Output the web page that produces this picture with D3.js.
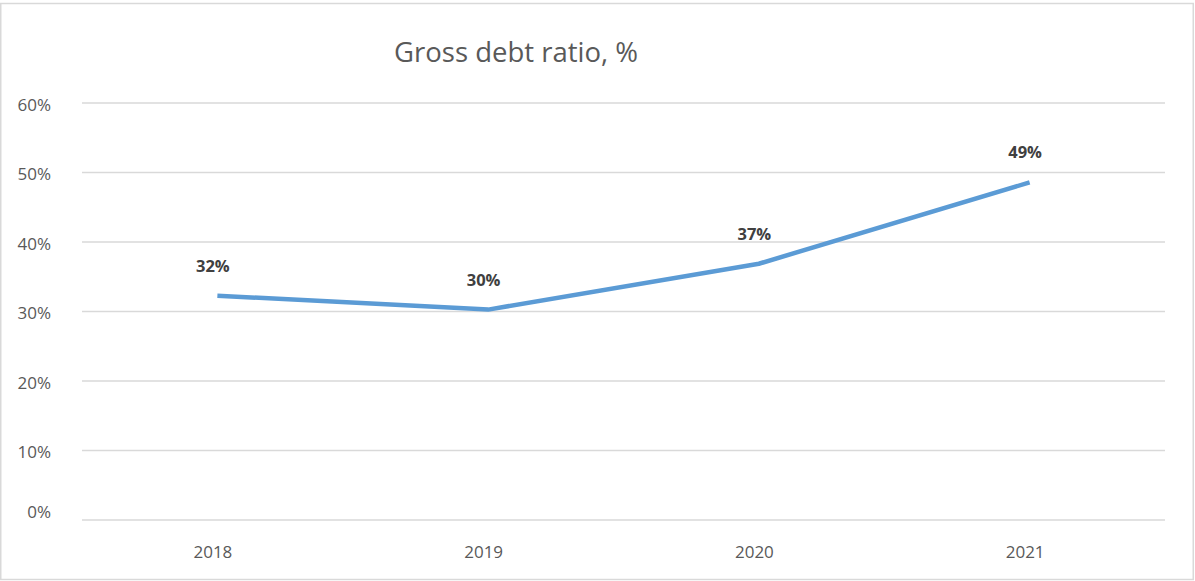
<!DOCTYPE html>
<html><head><meta charset="utf-8">
<script src="https://cdn.jsdelivr.net/npm/d3@7"></script>
<style>html,body{margin:0;padding:0;background:#fff;}svg{display:block;}</style>
</head><body>
<svg id="chart" width="1195" height="581"></svg>
<script>
const categories = ["2018", "2019", "2020", "2021"];
const values = [32.2, 30.2, 36.8, 48.5];
const dataLabels = ["32%", "30%", "37%", "49%"];
const yTicks = [0, 10, 20, 30, 40, 50, 60];
const title = "Gross debt ratio, %";

const W = 1195, H = 581;
const margin = {left: 82, right: 30, top: 102.5, bottom: 61.5};
const svg = d3.select("#chart");
const font = "'Open Sans', 'Liberation Sans', sans-serif";

svg.append("rect").attr("x", 0.75).attr("y", 3.5).attr("width", W - 2.5).attr("height", H - 5)
  .attr("fill", "#fff").attr("stroke", "#d9d9d9").attr("stroke-width", 1.5);

const x = d3.scaleBand().domain(categories).range([margin.left, W - margin.right]);
const y = d3.scaleLinear().domain([0, 60]).range([H - margin.bottom, margin.top]);

// gridlines + y labels
const yAxis = d3.axisLeft(y).tickValues(yTicks).tickSize(-(W - margin.right - margin.left))
  .tickFormat(d => d + "%").tickPadding(31);
const gy = svg.append("g").attr("transform", `translate(${margin.left},0)`).call(yAxis);
gy.select(".domain").remove();
gy.selectAll(".tick line").attr("stroke", "#d9d9d9").attr("stroke-width", 1.5);
gy.selectAll(".tick text").attr("fill", "#595959").style("font-family", font).style("font-size", "17px")
  .attr("dy", d => d === 0 ? "-0.12em" : "0.45em");

// x axis labels
const xAxis = d3.axisBottom(x).tickSize(0).tickPadding(26);
const gx = svg.append("g").attr("transform", `translate(0,${H - margin.bottom})`).call(xAxis);
gx.select(".domain").remove();
gx.selectAll(".tick text").attr("fill", "#595959").style("font-family", font).style("font-size", "17px")
  .attr("dx", -4.5);

// line
const line = d3.line().x((d, i) => x(categories[i]) + x.bandwidth() / 2).y(d => y(d));
svg.append("path").datum(values).attr("d", line).attr("fill", "none")
  .attr("stroke", "#5b9bd5").attr("stroke-width", 4.5).attr("stroke-linejoin", "round");

// data labels
svg.selectAll(".dl").data(values).enter().append("text")
  .attr("x", (d, i) => x(categories[i]) + x.bandwidth() / 2 - 4.5)
  .attr("y", d => y(d) - 24)
  .attr("text-anchor", "middle")
  .attr("fill", "#404040").style("font-family", font).style("font-size", "16.5px").style("font-weight", "bold")
  .text((d, i) => dataLabels[i]);

// title
svg.append("text").attr("x", 516).attr("y", 62).attr("text-anchor", "middle")
  .attr("fill", "#595959").style("font-family", font).style("font-size", "27.5px")
  .text(title);
</script>
</body></html>
